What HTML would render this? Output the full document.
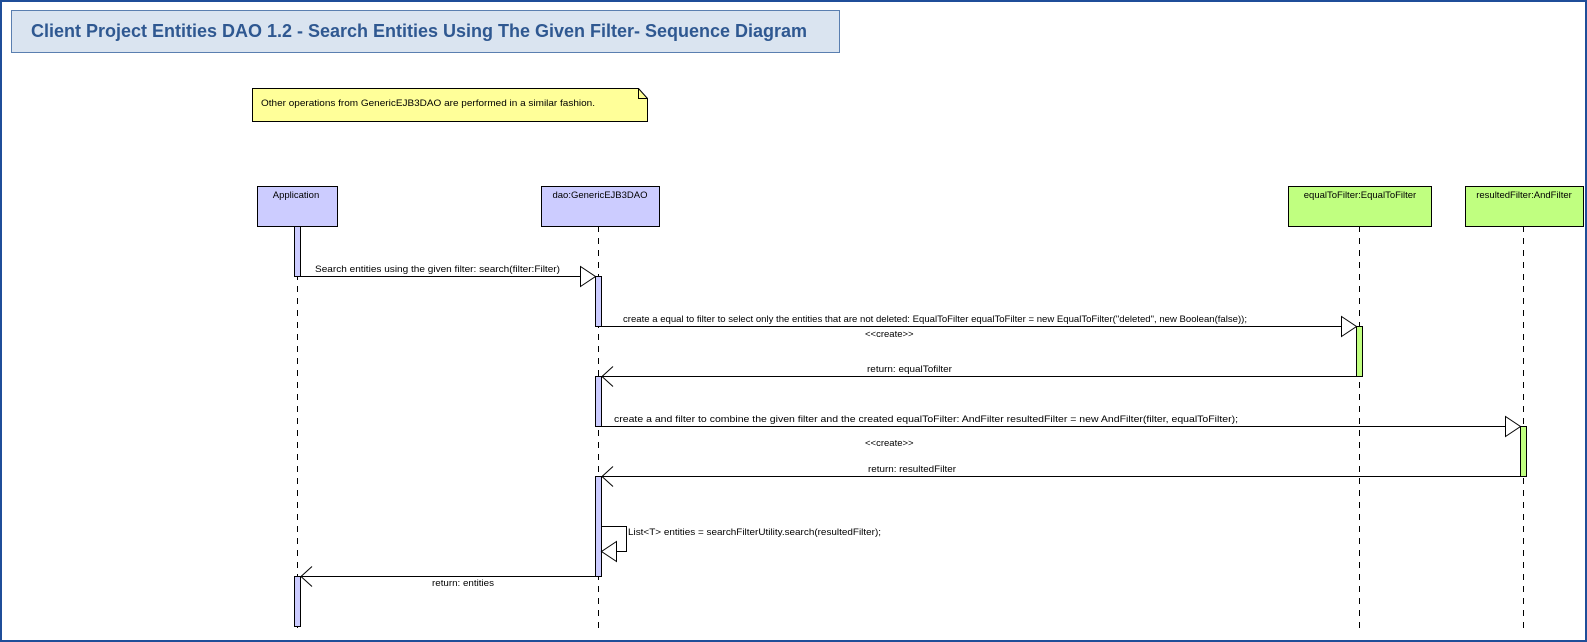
<!DOCTYPE html>
<html><head><meta charset="utf-8"><style>
html,body{margin:0;padding:0;background:#fff;}
svg{display:block;}
text{font-family:"Liberation Sans",Arial,sans-serif;font-size:9.5px;fill:#000;}
</style></head><body>
<svg width="1587" height="642" viewBox="0 0 1587 642" xmlns="http://www.w3.org/2000/svg">
<rect x="1" y="1" width="1585" height="640" fill="#fff" stroke="#1f4e99" stroke-width="2"/>
<!-- title -->
<rect x="11.5" y="10.5" width="828" height="42" fill="#dae4f0" stroke="#5a7fb0"/>
<text x="31" y="37" textLength="776" lengthAdjust="spacingAndGlyphs" style="font-size:18px;font-weight:bold;fill:#2f5891">Client Project Entities DAO 1.2 - Search Entities Using The Given Filter- Sequence Diagram</text>
<!-- note -->
<path d="M252.5 88.5 H638.5 L647.5 98.5 V121.5 H252.5 Z" fill="#ffff99" stroke="#000"/>
<path d="M638.5 88.5 V98.5 H647.5" fill="none" stroke="#000"/>
<text x="261" y="106" textLength="334" lengthAdjust="spacingAndGlyphs">Other operations from GenericEJB3DAO are performed in a similar fashion.</text>
<!-- lifelines -->
<g stroke="#000" stroke-dasharray="6,6" fill="none">
<line x1="297.5" y1="226" x2="297.5" y2="632"/>
<line x1="598.5" y1="226" x2="598.5" y2="632"/>
<line x1="1359.5" y1="226" x2="1359.5" y2="632"/>
<line x1="1523.5" y1="226" x2="1523.5" y2="632"/>
</g>
<!-- heads -->
<g stroke="#000">
<rect x="257.5" y="186.5" width="80" height="40" fill="#ccccff"/>
<rect x="541.5" y="186.5" width="118" height="40" fill="#ccccff"/>
<rect x="1288.5" y="186.5" width="143" height="40" fill="#c0ff80"/>
<rect x="1465.5" y="186.5" width="118" height="40" fill="#c0ff80"/>
</g>
<text x="296" y="198" text-anchor="middle">Application</text>
<text x="600" y="198" text-anchor="middle">dao:GenericEJB3DAO</text>
<text x="1360" y="198" text-anchor="middle">equalToFilter:EqualToFilter</text>
<text x="1524" y="198" text-anchor="middle">resultedFilter:AndFilter</text>
<!-- activations -->
<g stroke="#000">
<rect x="294.5" y="226.5" width="6" height="50" fill="#ccccff"/>
<rect x="595.5" y="276.5" width="6" height="50" fill="#ccccff"/>
<rect x="1356.5" y="326.5" width="6" height="50" fill="#c0ff80"/>
<rect x="595.5" y="376.5" width="6" height="50" fill="#ccccff"/>
<rect x="1520.5" y="426.5" width="6" height="50" fill="#c0ff80"/>
<rect x="595.5" y="476.5" width="6" height="100" fill="#ccccff"/>
<rect x="294.5" y="576.5" width="6" height="50" fill="#ccccff"/>
</g>
<!-- messages -->
<g stroke="#000" fill="none">
<line x1="300" y1="276.5" x2="595" y2="276.5"/>
<path d="M580.5 266.5 L595.5 276.5 L580.5 286.5 Z" fill="#fff"/>
<line x1="601" y1="326.5" x2="1356" y2="326.5"/>
<path d="M1341.5 316.5 L1356.5 326.5 L1341.5 336.5 Z" fill="#fff"/>
<line x1="602" y1="376.5" x2="1356" y2="376.5"/>
<path d="M613 366.5 L602 376.5 L613 386.5"/>
<line x1="601" y1="426.5" x2="1520" y2="426.5"/>
<path d="M1505.5 416.5 L1520.5 426.5 L1505.5 436.5 Z" fill="#fff"/>
<line x1="602" y1="476.5" x2="1520" y2="476.5"/>
<path d="M613 466.5 L602 476.5 L613 486.5"/>
<path d="M601 526.5 H626.5 V551.5 H602"/>
<path d="M616.5 541.5 L601.5 551.5 L616.5 561.5 Z" fill="#fff"/>
<line x1="301" y1="576.5" x2="595" y2="576.5"/>
<path d="M312 566.5 L301 576.5 L312 586.5"/>
</g>
<text x="315" y="272" textLength="245" lengthAdjust="spacingAndGlyphs">Search entities using the given filter: search(filter:Filter)</text>
<text x="623" y="322" textLength="624" lengthAdjust="spacingAndGlyphs">create a equal to filter to select only the entities that are not deleted: EqualToFilter equalToFilter = new EqualToFilter("deleted", new Boolean(false));</text>
<text x="865" y="337">&lt;&lt;create&gt;&gt;</text>
<text x="867" y="372" textLength="85" lengthAdjust="spacingAndGlyphs">return: equalTofilter</text>
<text x="614" y="422" textLength="624" lengthAdjust="spacingAndGlyphs">create a and filter to combine the given filter and the created equalToFilter: AndFilter resultedFilter = new AndFilter(filter, equalToFilter);</text>
<text x="865" y="446">&lt;&lt;create&gt;&gt;</text>
<text x="868" y="472" textLength="88" lengthAdjust="spacingAndGlyphs">return: resultedFilter</text>
<text x="628" y="535" textLength="253" lengthAdjust="spacingAndGlyphs">List&lt;T&gt; entities = searchFilterUtility.search(resultedFilter);</text>
<text x="432" y="586" textLength="62" lengthAdjust="spacingAndGlyphs">return: entities</text>
</svg>
</body></html>
